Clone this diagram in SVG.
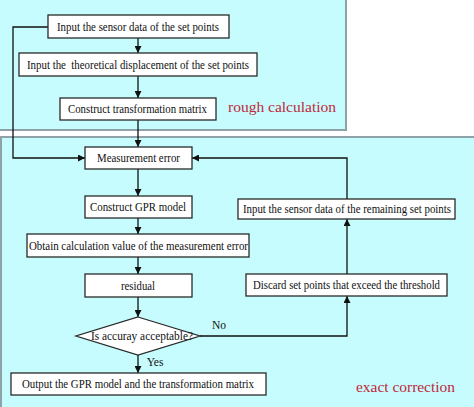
<svg xmlns="http://www.w3.org/2000/svg" width="474" height="407" viewBox="0 0 474 407">
<style>
.panel{fill:#c6fcfd;stroke:#8ea2a8;stroke-width:2}
.box{fill:#ffffff;stroke:#2a2a2a;stroke-width:1.3}
.t{font-family:"Liberation Serif","Times New Roman",serif;font-size:11.5px;fill:#111;text-anchor:middle;dominant-baseline:central}
.lab{font-family:"Liberation Serif","Times New Roman",serif;font-size:15.5px;fill:#c0283c}
.c{fill:none;stroke:#111;stroke-width:1.3}
</style>
<defs>
<marker id="ah" viewBox="0 0 10 10" refX="10" refY="5" markerWidth="7" markerHeight="7" markerUnits="userSpaceOnUse" orient="auto">
<path d="M0,0 L10,5 L0,10 z" fill="#111"/>
</marker>
</defs>
<g id="panels">
<rect class="panel" x="-2" y="-2" width="348" height="132"/>
<rect class="panel" x="1" y="137" width="480" height="280"/>
<text class="lab" x="228" y="112" textLength="108" lengthAdjust="spacingAndGlyphs">rough calculation</text>
<text class="lab" x="356" y="392" textLength="99" lengthAdjust="spacingAndGlyphs">exact correction</text>
</g>
<g id="connectors">
<path class="c" d="M138,38 V53" marker-end="url(#ah)"/>
<path class="c" d="M138,76 V98" marker-end="url(#ah)"/>
<path class="c" d="M138,120 V147" marker-end="url(#ah)"/>
<path class="c" d="M48,27 H13 V158 H85" marker-end="url(#ah)"/>
<path class="c" d="M138,169 V196" marker-end="url(#ah)"/>
<path class="c" d="M138,218 V234" marker-end="url(#ah)"/>
<path class="c" d="M138,257 V274" marker-end="url(#ah)"/>
<path class="c" d="M138,297 V317" marker-end="url(#ah)"/>
<path class="c" d="M138,355 V373" marker-end="url(#ah)"/>
<path class="c" d="M200,336 H347 V296" marker-end="url(#ah)"/>
<path class="c" d="M347,274 V219" marker-end="url(#ah)"/>
<path class="c" d="M347,199 V158 H192" marker-end="url(#ah)"/>
<text class="t" x="219" y="325">No</text>
<text class="t" x="155" y="362">Yes</text>
</g>
<g id="n1"><rect class="box" x="48" y="15" width="181" height="23"/><text class="t" x="138" y="26.5" textLength="162" lengthAdjust="spacingAndGlyphs">Input the sensor data of the set points</text></g>
<g id="n2"><rect class="box" x="19" y="53" width="238" height="23"/><text class="t" x="138" y="64.5" xml:space="preserve" textLength="222" lengthAdjust="spacingAndGlyphs">Input the  theoretical displacement of the set points</text></g>
<g id="n3"><rect class="box" x="60" y="98" width="156" height="22"/><text class="t" x="137.5" y="109" textLength="139" lengthAdjust="spacingAndGlyphs">Construct transformation matrix</text></g>
<g id="n4"><rect class="box" x="85" y="147" width="107" height="22"/><text class="t" x="138.5" y="158" textLength="83" lengthAdjust="spacingAndGlyphs">Measurement error</text></g>
<g id="n5"><rect class="box" x="85" y="196" width="107" height="22"/><text class="t" x="138" y="207" textLength="96" lengthAdjust="spacingAndGlyphs">Construct GPR model</text></g>
<g id="n6"><rect class="box" x="27" y="234" width="222" height="23"/><text class="t" x="138.5" y="245.5" textLength="219" lengthAdjust="spacingAndGlyphs">Obtain calculation value of the measurement error</text></g>
<g id="n7"><rect class="box" x="85" y="274" width="107" height="23"/><text class="t" x="138" y="285.5" textLength="34" lengthAdjust="spacingAndGlyphs">residual</text></g>
<g id="n8"><polygon class="box" points="138,317 200,336 138,355 76,336"/><text class="t" x="142" y="336" textLength="102" lengthAdjust="spacingAndGlyphs">Is accuray acceptable?</text></g>
<g id="n9"><rect class="box" x="11" y="373" width="255" height="22"/><text class="t" x="138" y="384" textLength="232" lengthAdjust="spacingAndGlyphs">Output the GPR model and the transformation matrix</text></g>
<g id="n10"><rect class="box" x="238" y="199" width="217" height="20"/><text class="t" x="347" y="209" textLength="208" lengthAdjust="spacingAndGlyphs">Input the sensor data of the remaining set points</text></g>
<g id="n11"><rect class="box" x="246" y="274" width="201" height="22"/><text class="t" x="346.5" y="285" textLength="187" lengthAdjust="spacingAndGlyphs">Discard set points that exceed the threshold</text></g>
</svg>
